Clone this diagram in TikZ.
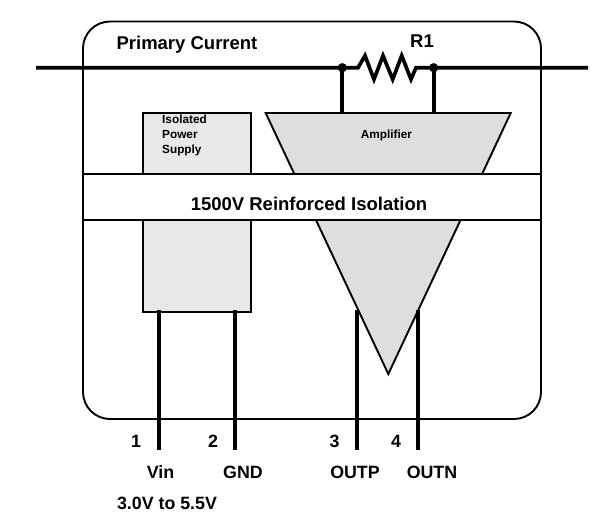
\documentclass[tikz,border=0pt]{standalone}
\usepackage{fontspec}
\setmainfont{Liberation Sans}
\tikzset{
	thin line/.style={line width=1.9pt},
	wire/.style={line width=3.7pt},
	big label/.style={font=\fontsize{18.5}{20}\selectfont\bfseries, inner sep=0pt},
	pin label/.style={font=\fontsize{17.8}{18}\selectfont\bfseries, inner sep=0pt},
	small label/.style={font=\fontsize{11.8}{15}\selectfont\bfseries, inner sep=0pt}
}
\begin{document}
\begin{tikzpicture}[x=1pt, y=-1pt, line join=miter, line cap=butt]
	\useasboundingbox (0,0) rectangle (599,530);
	\coordinate (wireL) at (36,67.7);
	\coordinate (wireR) at (588,67.7);
	\coordinate (dotL) at (342.3,67.7);
	\coordinate (dotR) at (433.7,67.7);
	\coordinate (ampL) at (342.3,113);
	\coordinate (ampR) at (433.7,113);
	\coordinate (vinT) at (158.7,310);
	\coordinate (vinB) at (158.7,450);
	\coordinate (gndT) at (235,310);
	\coordinate (gndB) at (235,450);
	\coordinate (outpT) at (357,310);
	\coordinate (outpB) at (357,450);
	\coordinate (outnT) at (418.3,310);
	\coordinate (outnB) at (418.3,450);
	% blocks
	\draw[thin line, fill=black!9] (143.3,113.3) rectangle (250.7,312.3);
	\draw[thin line, fill=black!13] (265.7,113) -- (510.7,113) -- (388.3,374) -- cycle;
	\draw[thin line, fill=white] (83,174.4) rectangle (541,220.4);
	\draw[thin line, rounded corners=27pt] (83,21.5) rectangle (541,419);
	% current path
	\draw[wire] (wireL) -- (dotL) -- (358,67.7) -- (365,55.7) -- (374,79.3) -- (383,55.7) -- (392.7,79.3) -- (401.7,55.7) -- (411,79.3) -- (416,67.7) -- (dotR) -- (wireR);
	\fill (dotL) circle (4.6pt);
	\fill (dotR) circle (4.6pt);
	\draw[wire] (dotL) -- (ampL);
	\draw[wire] (dotR) -- (ampR);
	% pins
	\draw[wire] (vinT) -- (vinB);
	\draw[wire] (gndT) -- (gndB);
	\draw[wire] (outpT) -- (outpB);
	\draw[wire] (outnT) -- (outnB);
	% labels
	\node[big label] (primary) at (187,45) {Primary Current};
	\node[big label] (rone) at (422,41) {R1};
	\node[big label] (iso) at (309,204) {1500V Reinforced Isolation};
	\node[small label] (amp) at (386.5,135) {Amplifier};
	\node[small label, anchor=west, align=left] (supply) at (162,135) {Isolated\\Power\\Supply};
	\node[pin label] (one) at (136,441) {1};
	\node[pin label] (two) at (213,441) {2};
	\node[pin label] (three) at (334.5,441) {3};
	\node[pin label] (four) at (396,441) {4};
	\node[pin label] (vin) at (160.5,472) {Vin};
	\node[pin label] (gnd) at (243,472) {GND};
	\node[pin label] (outp) at (355,472) {OUTP};
	\node[pin label] (outn) at (432,472) {OUTN};
	\node[pin label] (range) at (167,503) {3.0V to 5.5V};
\end{tikzpicture}
\end{document}
